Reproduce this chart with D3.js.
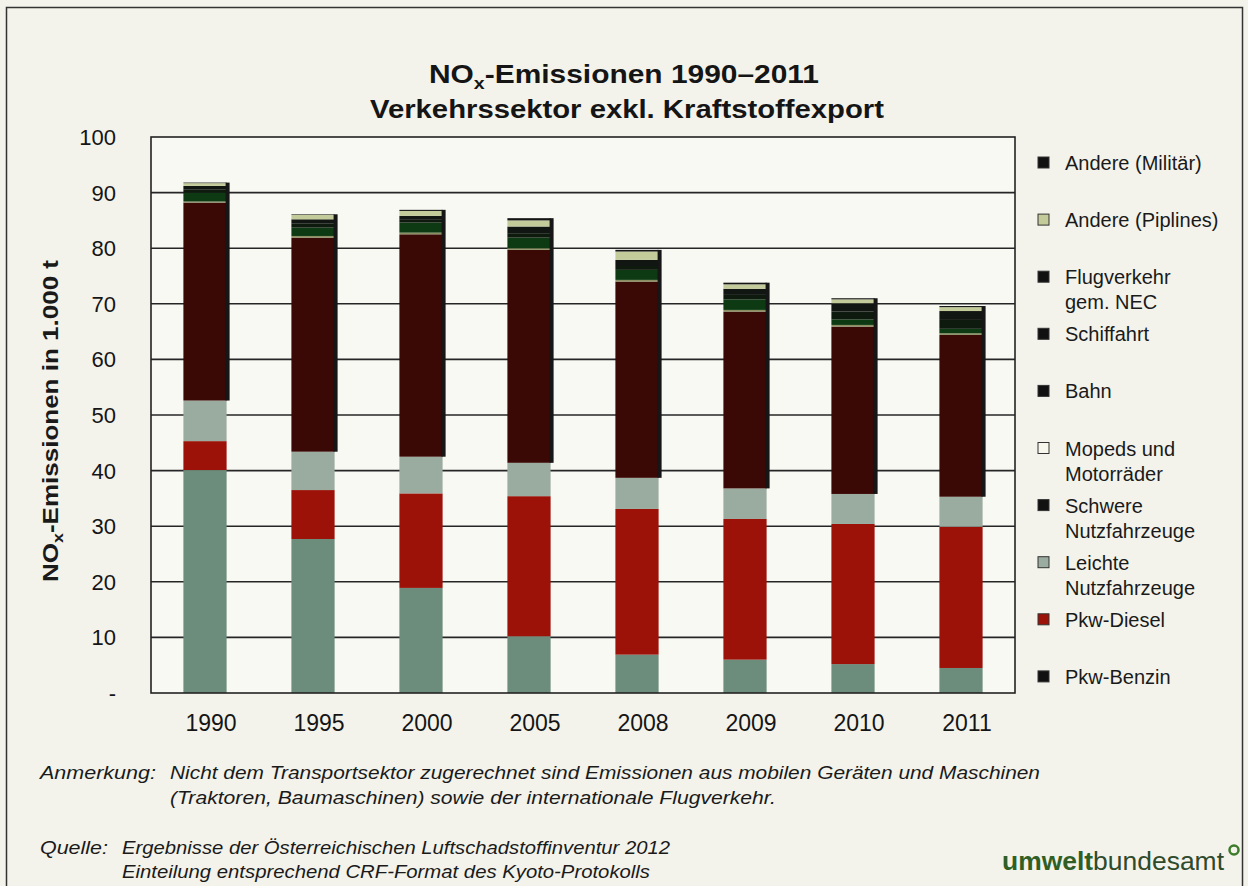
<!DOCTYPE html>
<html>
<head>
<meta charset="utf-8">
<script src="https://cdn.jsdelivr.net/npm/d3@7"></script>
<style>
  body { margin: 0; background: #f3f3ec; }
  svg { display: block; font-family: "Liberation Sans", Arial, sans-serif; }
</style>
</head>
<body>
<svg id="chart" width="1248" height="886"></svg>
<script>
// ====================== Daten (1.000 t NOx) ======================
var jahre = ["1990", "1995", "2000", "2005", "2008", "2009", "2010", "2011"];

var pkwBenzin   = [40.1, 27.7, 18.9, 10.2, 6.9, 6.0, 5.2, 4.5];
var pkwDiesel   = [5.2, 8.8, 17.0, 25.2, 26.2, 25.3, 25.2, 25.4];
var leichteNfz  = [7.3, 6.9, 6.6, 6.0, 5.6, 5.5, 5.4, 5.4];
var schwereNfz  = [35.6, 38.5, 40.0, 38.3, 35.3, 31.8, 30.1, 29.1];
var mopeds      = [0.2, 0.3, 0.3, 0.3, 0.3, 0.3, 0.3, 0.3];
var bahn        = [1.6, 1.5, 1.8, 1.9, 1.8, 1.9, 1.0, 0.8];
var schifffahrt = [0.6, 0.7, 0.5, 0.8, 0.7, 0.8, 1.4, 1.6];
var flugverkehr = [0.6, 0.8, 0.7, 1.2, 1.1, 1.1, 1.5, 1.6];
var pipelines   = [0.5, 0.8, 0.9, 1.1, 1.5, 0.8, 0.7, 0.7];
var militaer    = [0.1, 0.1, 0.2, 0.4, 0.3, 0.3, 0.2, 0.2];

var yTicks = [0, 10, 20, 30, 40, 50, 60, 70, 80, 90, 100];
var yTickLabels = ["-", "10", "20", "30", "40", "50", "60", "70", "80", "90", "100"];

// Reihenfolge von unten nach oben
var serien = [
  { key: "benzin",   name: ["Pkw-Benzin"],                  werte: pkwBenzin,   farbe: "#6c8c7c", legende: "#111111" },
  { key: "diesel",   name: ["Pkw-Diesel"],                  werte: pkwDiesel,   farbe: "#9c1208", legende: "#9c1208" },
  { key: "leichte",  name: ["Leichte", "Nutzfahrzeuge"],    werte: leichteNfz,  farbe: "#9aab9f", legende: "#9aab9f" },
  { key: "schwere",  name: ["Schwere", "Nutzfahrzeuge"],    werte: schwereNfz,  farbe: "#3a0805", legende: "#111111" },
  { key: "mopeds",   name: ["Mopeds und", "Motorräder"],    werte: mopeds,      farbe: "#8a8f62", legende: "#f7f7ee" },
  { key: "bahn",     name: ["Bahn"],                        werte: bahn,        farbe: "#0d3a12", legende: "#111111" },
  { key: "schiff",   name: ["Schiffahrt"],                  werte: schifffahrt, farbe: "#0e1a0e", legende: "#111111" },
  { key: "flug",     name: ["Flugverkehr", "gem. NEC"],     werte: flugverkehr, farbe: "#121612", legende: "#111111" },
  { key: "pipe",     name: ["Andere (Piplines)"],           werte: pipelines,   farbe: "#c3cb9b", legende: "#c3cb9b" },
  { key: "militaer", name: ["Andere (Militär)"],            werte: militaer,    farbe: "#151515", legende: "#111111" }
];

var tabelle = jahre.map(function(j, i) {
  var zeile = { jahr: j };
  serien.forEach(function(s) { zeile[s.key] = s.werte[i]; });
  return zeile;
});

// ====================== Grundgeruest ======================
var svg = d3.select("#chart");
var margin = { left: 151, right: 1015, top: 137, bottom: 693 };

svg.append("rect")
  .attr("x", 6.5).attr("y", 7.5)
  .attr("width", 1236).attr("height", 900)
  .attr("fill", "#f3f3ec")
  .attr("stroke", "#333").attr("stroke-width", 1.5);

var x = d3.scaleBand()
  .domain(jahre)
  .range([margin.left, margin.right])
  .paddingInner(0.6)
  .paddingOuter(0.3);

var y = d3.scaleLinear()
  .domain([0, 100])
  .range([margin.bottom, margin.top]);

// Plotflaeche
svg.append("rect")
  .attr("x", margin.left).attr("y", y(100))
  .attr("width", margin.right - margin.left)
  .attr("height", y(0) - y(100))
  .attr("fill", "#f9f9f4");

// Gitterlinien
svg.append("g")
  .selectAll("line")
  .data(yTicks.filter(function(t) { return t > 0 && t < 100; }))
  .enter().append("line")
    .attr("x1", margin.left).attr("x2", margin.right)
    .attr("y1", function(d) { return y(d); })
    .attr("y2", function(d) { return y(d); })
    .attr("stroke", "#262626")
    .attr("stroke-width", 1.6);

// ====================== Balken ======================
var stack = d3.stack().keys(serien.map(function(s) { return s.key; }));
var gestapelt = stack(tabelle);

var farbe = d3.scaleOrdinal()
  .domain(serien.map(function(s) { return s.key; }))
  .range(serien.map(function(s) { return s.farbe; }));

svg.append("g")
  .selectAll("g")
  .data(gestapelt)
  .enter().append("g")
    .attr("fill", function(d) { return farbe(d.key); })
  .selectAll("rect")
  .data(function(d) { return d; })
  .enter().append("rect")
    .attr("x", function(d) { return x(d.data.jahr); })
    .attr("y", function(d) { return y(d[1]); })
    .attr("width", x.bandwidth())
    .attr("height", function(d) { return y(d[0]) - y(d[1]); });

// dunkler Rand rechts (wie im Druck) vom Oberende bis zu den leichten Nfz
var ebeneLeichte = gestapelt[2];
var ebeneOben = gestapelt[gestapelt.length - 1];
svg.append("g")
  .selectAll("rect")
  .data(jahre)
  .enter().append("rect")
    .attr("x", function(d) { return x(d) + x.bandwidth() - 1; })
    .attr("y", function(d, i) { return y(ebeneOben[i][1]); })
    .attr("width", 4)
    .attr("height", function(d, i) { return y(ebeneLeichte[i][1]) - y(ebeneOben[i][1]); })
    .attr("fill", "#161616");

// Rahmen der Plotflaeche
svg.append("rect")
  .attr("x", margin.left).attr("y", y(100))
  .attr("width", margin.right - margin.left)
  .attr("height", y(0) - y(100))
  .attr("fill", "none")
  .attr("stroke", "#222").attr("stroke-width", 1.6);

// ====================== Achsen ======================
svg.append("g")
  .selectAll("text")
  .data(yTicks)
  .enter().append("text")
    .attr("x", 116)
    .attr("y", function(d) { return y(d); })
    .attr("dy", "0.36em")
    .attr("text-anchor", "end")
    .attr("font-size", 22)
    .attr("fill", "#151515")
    .text(function(d, i) { return yTickLabels[i]; });

svg.append("g")
  .selectAll("text")
  .data(jahre)
  .enter().append("text")
    .attr("x", function(d) { return x(d) + x.bandwidth() / 2 + 6; })
    .attr("y", 731)
    .attr("text-anchor", "middle")
    .attr("font-size", 23)
    .attr("fill", "#151515")
    .text(function(d) { return d; });

var yTitel = svg.append("text")
  .attr("transform", "translate(58,421) rotate(-90)")
  .attr("text-anchor", "middle")
  .attr("font-size", 22)
  .attr("font-weight", "bold")
  .attr("fill", "#1a1a1a")
  .attr("textLength", 322).attr("lengthAdjust", "spacingAndGlyphs");
yTitel.append("tspan").text("NO");
yTitel.append("tspan").attr("font-size", 15).attr("dy", 5).text("x");
yTitel.append("tspan").attr("dy", -5).text("-Emissionen in 1.000 t");

// ====================== Titel ======================
var titel1 = svg.append("text")
  .attr("x", 624).attr("y", 83)
  .attr("text-anchor", "middle")
  .attr("font-size", 26)
  .attr("font-weight", "bold")
  .attr("fill", "#151515")
  .attr("textLength", 390).attr("lengthAdjust", "spacingAndGlyphs");
titel1.append("tspan").text("NO");
titel1.append("tspan").attr("font-size", 17).attr("dy", 6).text("x");
titel1.append("tspan").attr("dy", -6).text("-Emissionen 1990–2011");

svg.append("text")
  .attr("x", 627).attr("y", 118)
  .attr("text-anchor", "middle")
  .attr("font-size", 26)
  .attr("font-weight", "bold")
  .attr("fill", "#151515")
  .attr("textLength", 514).attr("lengthAdjust", "spacingAndGlyphs")
  .text("Verkehrssektor exkl. Kraftstoffexport");

// ====================== Legende ======================
var legendeSerien = serien.slice().reverse();
var legende = svg.append("g")
  .selectAll("g")
  .data(legendeSerien)
  .enter().append("g")
    .attr("transform", function(d, i) { return "translate(1038," + (163 + i * 57.1) + ")"; });

legende.append("rect")
  .attr("x", 0).attr("y", -6)
  .attr("width", 11).attr("height", 11)
  .attr("fill", function(d) { return d.legende; })
  .attr("stroke", "#333").attr("stroke-width", 1);

legende.append("text")
  .attr("x", 27)
  .attr("font-size", 20)
  .attr("fill", "#1a1a1a")
  .selectAll("tspan")
  .data(function(d) { return d.name; })
  .enter().append("tspan")
    .attr("x", 27)
    .attr("y", function(d, i) { return i * 25; })
    .attr("dy", "0.35em")
    .text(function(d) { return d; });

// ====================== Fussnoten ======================
var fuss = svg.append("g")
  .attr("font-size", 18)
  .attr("font-style", "italic")
  .attr("fill", "#1a1a1a");

fuss.append("text").attr("x", 40).attr("y", 779).text("Anmerkung:")
  .attr("textLength", 116).attr("lengthAdjust", "spacingAndGlyphs");
fuss.append("text").attr("x", 170).attr("y", 779)
  .attr("textLength", 870).attr("lengthAdjust", "spacingAndGlyphs")
  .text("Nicht dem Transportsektor zugerechnet sind Emissionen aus mobilen Geräten und Maschinen");
fuss.append("text").attr("x", 170).attr("y", 804)
  .attr("textLength", 606).attr("lengthAdjust", "spacingAndGlyphs")
  .text("(Traktoren, Baumaschinen) sowie der internationale Flugverkehr.");
fuss.append("text").attr("x", 40).attr("y", 854)
  .attr("textLength", 68).attr("lengthAdjust", "spacingAndGlyphs")
  .text("Quelle:");
fuss.append("text").attr("x", 122).attr("y", 854)
  .attr("textLength", 548).attr("lengthAdjust", "spacingAndGlyphs")
  .text("Ergebnisse der Österreichischen Luftschadstoffinventur 2012");
fuss.append("text").attr("x", 122).attr("y", 878)
  .attr("textLength", 528).attr("lengthAdjust", "spacingAndGlyphs")
  .text("Einteilung entsprechend CRF-Format des Kyoto-Protokolls");

// Logo
var logo = svg.append("text")
  .attr("x", 1002).attr("y", 870)
  .attr("font-size", 25)
  .attr("textLength", 222).attr("lengthAdjust", "spacingAndGlyphs");
logo.append("tspan").attr("font-weight", "bold").attr("fill", "#2f5f25").text("umwelt");
logo.append("tspan").attr("fill", "#2f4a2a").text("bundesamt");
svg.append("circle")
  .attr("cx", 1234).attr("cy", 850).attr("r", 4.5)
  .attr("fill", "none").attr("stroke", "#3d7a2a").attr("stroke-width", 2.5);
</script>
</body>
</html>
